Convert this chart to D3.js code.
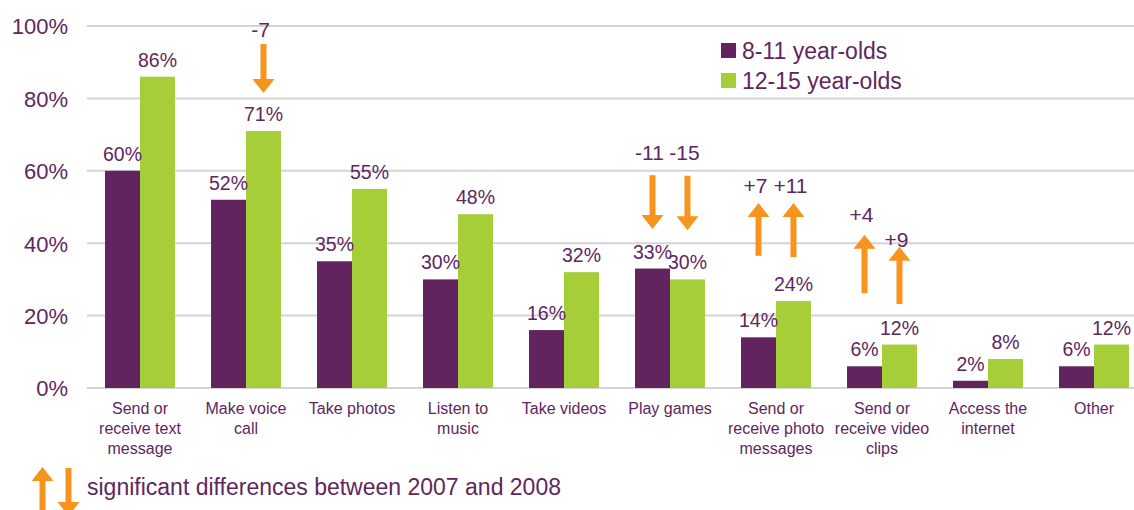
<!DOCTYPE html>
<html>
<head>
<meta charset="utf-8">
<script src="https://cdn.jsdelivr.net/npm/d3@7"></script>
<style>
  body { margin: 0; background: #fff; }
  svg { display: block; font-family: "Liberation Sans", Arial, sans-serif; }
</style>
</head>
<body>
<div id="viz"></div>
<script>
(function() {
  var categories, labelLines, series, values, yTicks, changes, noteText;

  categories = ["text", "voice", "photos", "music", "videos", "games", "photomsg", "clips", "internet", "other"];

  labelLines = [
    ["Send or", "receive text", "message"],
    ["Make voice", "call"],
    ["Take photos"],
    ["Listen to", "music"],
    ["Take videos"],
    ["Play games"],
    ["Send or", "receive photo", "messages"],
    ["Send or", "receive video", "clips"],
    ["Access the", "internet"],
    ["Other"]
  ];

  series = ["8-11 year-olds", "12-15 year-olds"];

  values = [
    [60, 52, 35, 30, 16, 33, 14, 6, 2, 6],
    [86, 71, 55, 48, 32, 30, 24, 12, 8, 12]
  ];

  yTicks = [0, 20, 40, 60, 80, 100];

  // significant changes 2007-2008: arrow runs from 'from' to 'to' (in %), label sits at 'at'
  changes = [
    { cat: "voice", s: 1, text: "-7", from: 95, to: 81.5, at: 97 },
    { cat: "games", s: 0, text: "-11", from: 58.8, to: 43.9, at: 63 },
    { cat: "games", s: 1, text: "-15", from: 58.6, to: 43.6, at: 63 },
    { cat: "photomsg", s: 0, text: "+7", from: 36.5, to: 51.1, at: 53.9 },
    { cat: "photomsg", s: 1, text: "+11", from: 36.2, to: 51.1, at: 53.9 },
    { cat: "clips", s: 0, text: "+4", from: 26.2, to: 42.3, at: 45.9 },
    { cat: "clips", s: 1, text: "+9", from: 23.2, to: 39, at: 39 }
  ];

  noteText = "significant differences between 2007 and 2008";

  var width = 1134, height = 510;
  var purple = "#62245f", green = "#a6ce39", orange = "#f7941d", textCol = "#60265e", gridCol = "#d4d4d4";
  var colors = [purple, green];

  var svg = d3.select("#viz").append("svg").attr("width", width).attr("height", height);

  var x0 = d3.scaleBand().domain(categories).range([87, 1147]).paddingInner(0.34).paddingOuter(0.17);
  var x1 = d3.scaleBand().domain([0, 1]).range([0, x0.bandwidth()]);
  var y = d3.scaleLinear().domain([0, 100]).range([388, 26]);

  // gridlines
  svg.append("g").selectAll("line").data(yTicks).enter().append("line")
    .attr("x1", 87).attr("x2", width)
    .attr("y1", function(d) { return y(d); }).attr("y2", function(d) { return y(d); })
    .attr("stroke", gridCol).attr("stroke-width", 2);

  // y axis labels
  var yAxis = d3.axisLeft(y).tickValues(yTicks).tickSize(0).tickPadding(0)
    .tickFormat(function(d) { return d + "%"; });
  var ya = svg.append("g").attr("transform", "translate(68,0)").call(yAxis);
  ya.select(".domain").remove();
  ya.selectAll("text").attr("fill", textCol).style("font-size", "22px")
    .style("font-family", "Liberation Sans, Arial, sans-serif").attr("dy", "0.36em");

  // bars
  var groups = svg.append("g").selectAll("g").data(categories).enter().append("g")
    .attr("transform", function(d) { return "translate(" + x0(d) + ",0)"; });

  groups.selectAll("rect").data(function(d, i) {
    return [0, 1].map(function(s) { return { s: s, v: values[s][i] }; });
  }).enter().append("rect")
    .attr("x", function(d) { return x1(d.s); })
    .attr("width", x1.bandwidth())
    .attr("y", function(d) { return y(d.v); })
    .attr("height", function(d) { return y(0) - y(d.v); })
    .attr("fill", function(d) { return colors[d.s]; });

  groups.selectAll("text.val").data(function(d, i) {
    return [0, 1].map(function(s) { return { s: s, v: values[s][i] }; });
  }).enter().append("text").attr("class", "val")
    .attr("x", function(d) { return x1(d.s) + x1.bandwidth() / 2; })
    .attr("y", function(d) { return y(d.v) - 10; })
    .attr("text-anchor", "middle").attr("fill", textCol).style("font-size", "19.5px")
    .text(function(d) { return d.v + "%"; });

  // category labels
  var catText = svg.append("g").selectAll("text").data(categories).enter().append("text")
    .attr("x", function(d) { return x0(d) + x0.bandwidth() / 2; })
    .attr("y", 414).attr("text-anchor", "middle").attr("fill", textCol).style("font-size", "16px");
  catText.selectAll("tspan").data(function(d, i) { return labelLines[i]; }).enter().append("tspan")
    .attr("x", function() { return d3.select(this.parentNode).attr("x"); })
    .attr("dy", function(d, i) { return i === 0 ? 0 : 20; })
    .text(function(d) { return d; });

  // arrow drawing: shaft 6px wide, head 22px wide, 14px tall
  function arrowPath(cx, yTail, yTip) {
    var dir = yTip > yTail ? 1 : -1, hh = 14, hw = 11, sw = 3;
    var yBase = yTip - dir * hh;
    return "M" + (cx - sw) + "," + yTail + "L" + (cx - sw) + "," + yBase +
      "L" + (cx - hw) + "," + yBase + "L" + cx + "," + yTip +
      "L" + (cx + hw) + "," + yBase + "L" + (cx + sw) + "," + yBase +
      "L" + (cx + sw) + "," + yTail + "Z";
  }

  var ann = svg.append("g").selectAll("g").data(changes).enter().append("g");
  ann.append("path")
    .attr("d", function(d) {
      var cx = x0(d.cat) + x1(d.s) + x1.bandwidth() / 2;
      return arrowPath(cx, y(d.from), y(d.to));
    })
    .attr("fill", orange);
  ann.append("text")
    .attr("x", function(d) { return x0(d.cat) + x1(d.s) + x1.bandwidth() / 2 - 3; })
    .attr("y", function(d) { return y(d.at); })
    .attr("text-anchor", "middle").attr("fill", textCol).style("font-size", "21px")
    .text(function(d) { return d.text; });

  // legend
  var legend = svg.append("g").selectAll("g").data(series).enter().append("g")
    .attr("transform", function(d, i) { return "translate(721," + (43 + i * 30) + ")"; });
  legend.append("rect").attr("width", 15).attr("height", 15)
    .attr("fill", function(d, i) { return colors[i]; });
  legend.append("text").attr("x", 21).attr("y", 15.5).attr("fill", textCol)
    .style("font-size", "23px").text(function(d) { return d; });

  // bottom note
  svg.append("path").attr("d", arrowPath(42.5, 515, 467)).attr("fill", orange);
  svg.append("path").attr("d", arrowPath(68.5, 468, 516)).attr("fill", orange);
  svg.append("text").attr("x", 87).attr("y", 495).attr("fill", textCol)
    .style("font-size", "23px").text(noteText);
}).call(this);
</script>
</body>
</html>
